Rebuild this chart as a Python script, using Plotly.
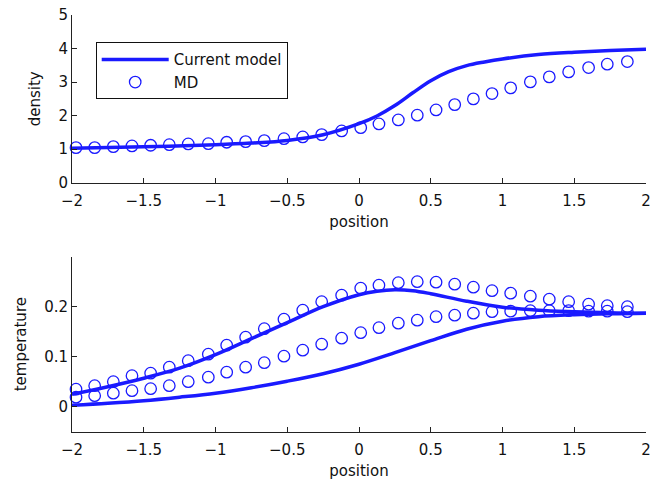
import plotly.graph_objects as go

# ---------------- data ----------------
md_x = [-1.972, -1.842, -1.712, -1.582, -1.452, -1.322, -1.190, -1.050, -0.922, -0.790,
        -0.660, -0.523, -0.392, -0.260, -0.121, 0.012, 0.139, 0.274, 0.406, 0.537,
        0.667, 0.797, 0.927, 1.057, 1.194, 1.326, 1.461, 1.600, 1.730, 1.870]

md_density = [1.045, 1.045, 1.075, 1.096, 1.116, 1.134, 1.155, 1.164, 1.206, 1.224,
              1.254, 1.313, 1.364, 1.433, 1.543, 1.642, 1.752, 1.872, 2.012, 2.170,
              2.328, 2.499, 2.657, 2.827, 3.006, 3.155, 3.304, 3.433, 3.534, 3.612]

md_temp_upper = [0.035, 0.042, 0.050, 0.062, 0.067, 0.079, 0.092, 0.105, 0.123, 0.139,
                 0.156, 0.175, 0.193, 0.210, 0.223, 0.237, 0.243, 0.248, 0.250, 0.249,
                 0.245, 0.239, 0.232, 0.227, 0.221, 0.215, 0.210, 0.205, 0.202, 0.200]

md_temp_lower = [0.019, 0.022, 0.027, 0.032, 0.036, 0.042, 0.050, 0.059, 0.069, 0.079,
                 0.088, 0.101, 0.113, 0.125, 0.137, 0.148, 0.158, 0.167, 0.173, 0.180,
                 0.183, 0.187, 0.190, 0.191, 0.192, 0.192, 0.192, 0.191, 0.191, 0.190]

model_dens_x = [-2.0, -1.5, -1.0, -0.75, -0.5, -0.25, 0.0, 0.125, 0.25, 0.375, 0.5,
                0.625, 0.75, 0.875, 1.0, 1.25, 1.5, 1.75, 2.0]
model_dens_y = [1.03, 1.07, 1.13, 1.18, 1.26, 1.43, 1.76, 1.99, 2.30, 2.68, 3.04,
                3.31, 3.49, 3.60, 3.69, 3.82, 3.89, 3.94, 3.98]

model_tu_x = [-2.0, -1.75, -1.5, -1.25, -1.0, -0.75, -0.5, -0.25, 0.0, 0.125, 0.25,
              0.375, 0.5, 0.75, 1.0, 1.25, 1.5, 1.75, 2.0]
model_tu_y = [0.025, 0.040, 0.057, 0.077, 0.104, 0.136, 0.168, 0.200, 0.224, 0.231, 0.234,
              0.232, 0.226, 0.211, 0.199, 0.193, 0.190, 0.188, 0.187]

model_tl_x = [-2.0, -1.75, -1.5, -1.25, -1.0, -0.75, -0.5, -0.25, 0.0, 0.25, 0.5,
              0.75, 1.0, 1.25, 1.5, 1.75, 2.0]
model_tl_y = [0.003, 0.007, 0.012, 0.019, 0.027, 0.038, 0.051, 0.066, 0.085, 0.108, 0.132,
              0.155, 0.171, 0.180, 0.184, 0.186, 0.187]

x_ticks = [-2, -1.5, -1, -0.5, 0, 0.5, 1, 1.5, 2]
dens_ticks = [0, 1, 2, 3, 4, 5]
temp_ticks = [0, 0.1, 0.2]

# ---------------- style ----------------
BLUE = "#1a1aff"
FONT = "DejaVu Sans"
W, H = 669, 483

line_style = dict(color=BLUE, width=3.5, shape="spline", smoothing=1.0)
marker_style = dict(symbol="circle-open", size=11.5, color=BLUE, line=dict(width=1.3, color=BLUE))

fig = go.Figure()

fig.add_trace(go.Scatter(x=model_dens_x, y=model_dens_y, mode="lines", line=line_style,
                         name="Current model", xaxis="x", yaxis="y"))
fig.add_trace(go.Scatter(x=md_x, y=md_density, mode="markers", marker=marker_style,
                         name="MD", cliponaxis=False, xaxis="x", yaxis="y"))

fig.add_trace(go.Scatter(x=model_tu_x, y=model_tu_y, mode="lines", line=line_style,
                         showlegend=False, xaxis="x2", yaxis="y2"))
fig.add_trace(go.Scatter(x=model_tl_x, y=model_tl_y, mode="lines", line=line_style,
                         showlegend=False, xaxis="x2", yaxis="y2"))
fig.add_trace(go.Scatter(x=md_x, y=md_temp_upper, mode="markers", marker=marker_style,
                         showlegend=False, cliponaxis=False, xaxis="x2", yaxis="y2"))
fig.add_trace(go.Scatter(x=md_x, y=md_temp_lower, mode="markers", marker=marker_style,
                         showlegend=False, cliponaxis=False, xaxis="x2", yaxis="y2"))

ax_common = dict(showgrid=False, zeroline=False, showline=True, linecolor="#222",
                 linewidth=1, ticks="inside", ticklen=5, tickcolor="#222",
                 tickfont=dict(family=FONT, size=15, color="#111"),
                 mirror=False, automargin=False)
x_common = dict(ax_common, ticklabelstandoff=4)

xd = [72 / W, 646 / W]
fig.update_layout(
    width=W, height=H,
    margin=dict(l=0, r=0, t=0, b=0, autoexpand=False),
    paper_bgcolor="white", plot_bgcolor="white",
    font=dict(family=FONT, size=15, color="#111"),
    showlegend=True,
    legend=dict(x=95.7 / W, y=1 - 42.3 / H, xanchor="left", yanchor="top",
                bordercolor="#111", borderwidth=1, bgcolor="white",
                font=dict(family=FONT, size=15, color="#111"),
                itemwidth=67, tracegroupgap=0),
    xaxis=dict(x_common, domain=xd, range=[-2, 2], tickvals=x_ticks,
               anchor="y", title=dict(text="position", font=dict(family=FONT, size=15), standoff=7)),
    yaxis=dict(ax_common, domain=[1 - 182.7 / H, 1 - 15 / H], range=[0, 5], tickvals=dens_ticks,
               anchor="x", title=dict(text="density", font=dict(family=FONT, size=15), standoff=14)),
    xaxis2=dict(x_common, domain=xd, range=[-2, 2], tickvals=x_ticks,
                anchor="y2", title=dict(text="position", font=dict(family=FONT, size=15), standoff=7)),
    yaxis2=dict(ax_common, domain=[1 - 431.7 / H, 1 - 256.7 / H], range=[-0.05, 0.3],
                tickvals=temp_ticks, anchor="x2",
                title=dict(text="temperature", font=dict(family=FONT, size=15), standoff=13)),
)

fig.write_html("out.html")
